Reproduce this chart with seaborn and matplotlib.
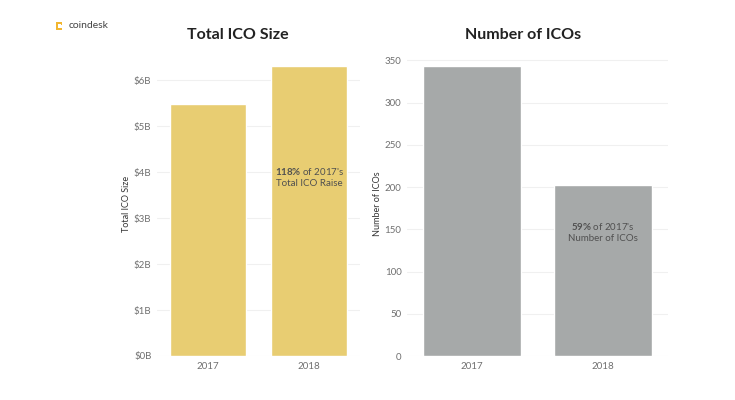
import matplotlib
matplotlib.use("Agg")
import matplotlib.pyplot as plt
import matplotlib.patches as mpatches
import seaborn as sns
import pandas as pd

# Data
years = ["2017", "2018"]
ico_size_b = [5.48, 6.32]      # total ICO raise, $ billions
ico_count = [343, 202]         # number of ICOs
size_ticks = [0, 1, 2, 3, 4, 5, 6]
size_tick_labels = ["$0B", "$1B", "$2B", "$3B", "$4B", "$5B", "$6B"]
count_ticks = [0, 50, 100, 150, 200, 250, 300, 350]

YELLOW = "#E8CD72"
GREY = "#A6A9A9"
TICK_C = "#707070"
TEXT_C = "#505050"

sns.set_theme(style="white")
plt.rcParams["font.family"] = ["Lato", "DejaVu Sans"]
plt.rcParams["mathtext.fontset"] = "custom"
plt.rcParams["mathtext.rm"] = "Lato"
plt.rcParams["mathtext.bf"] = "Lato:bold"

df = pd.DataFrame({"year": years, "size": ico_size_b, "count": ico_count})

fig = plt.figure(figsize=(7.35, 4.0), dpi=100)
ax1 = fig.add_axes([157 / 735, 44 / 400, 203 / 735, 304 / 400])
ax2 = fig.add_axes([407 / 735, 44 / 400, 261 / 735, 304 / 400])


def style_axis(ax, ticks, labels, ylim, ylabel):
    ax.set_xlim(-0.5, 1.5)
    ax.set_ylim(*ylim)
    ax.set_yticks(ticks)
    ax.set_yticklabels(labels)
    ax.grid(axis="y", color="#f0f0f0", linewidth=0.8)
    ax.set_axisbelow(True)
    for s in ax.spines.values():
        s.set_visible(False)
    ax.tick_params(axis="both", length=0, labelsize=7, colors=TICK_C)
    ax.tick_params(axis="y", pad=4)
    ax.tick_params(axis="x", pad=4)
    ax.set_xlabel("")
    ax.set_ylabel(ylabel, fontsize=6.5, color="#333333", labelpad=2)


sns.barplot(data=df, x="year", y="size", color=YELLOW, width=0.75,
            saturation=1, ax=ax1)
style_axis(ax1, size_ticks, size_tick_labels, (0, 6.62), "Total ICO Size")

sns.barplot(data=df, x="year", y="count", color=GREY, width=0.75,
            saturation=1, ax=ax2)
style_axis(ax2, count_ticks, [str(t) for t in count_ticks], (0, 360),
           "Number of ICOs")

ax1.text(1, 3.9, r"$\mathbf{118\%}$ of 2017's" + "\nTotal ICO Raise",
         ha="center", va="center", fontsize=7, color=TEXT_C, linespacing=1.3)
pct_count = round(ico_count[1] / ico_count[0] * 100)
ax2.text(1, 147, r"$\mathbf{%d\%%}$ of 2017's" % pct_count + "\nNumber of ICOs",
         ha="center", va="center", fontsize=7, color=TEXT_C, linespacing=1.3)

fig.text(238 / 735, 1 - 35 / 400, "Total ICO Size", ha="center", va="center",
         fontsize=11.5, fontweight="bold", color="#222222")
fig.text(523 / 735, 1 - 35 / 400, "Number of ICOs", ha="center", va="center",
         fontsize=11.5, fontweight="bold", color="#222222")

# coindesk logo
fig.text(69 / 735, 1 - 26 / 400, "coindesk", ha="left", va="center",
         fontsize=7.5, color="#444444")
for (x, y, w, h) in [(56, 22, 6, 1.6), (56, 22, 1.6, 8), (56, 28.4, 6, 1.6),
                     (60.5, 22, 1.6, 3)]:
    fig.patches.append(mpatches.Rectangle((x / 735, 1 - (y + h) / 400),
                                          w / 735, h / 400,
                                          transform=fig.transFigure,
                                          color="#F2B630", lw=0))

fig.savefig("out.png", dpi=100, facecolor="white")
